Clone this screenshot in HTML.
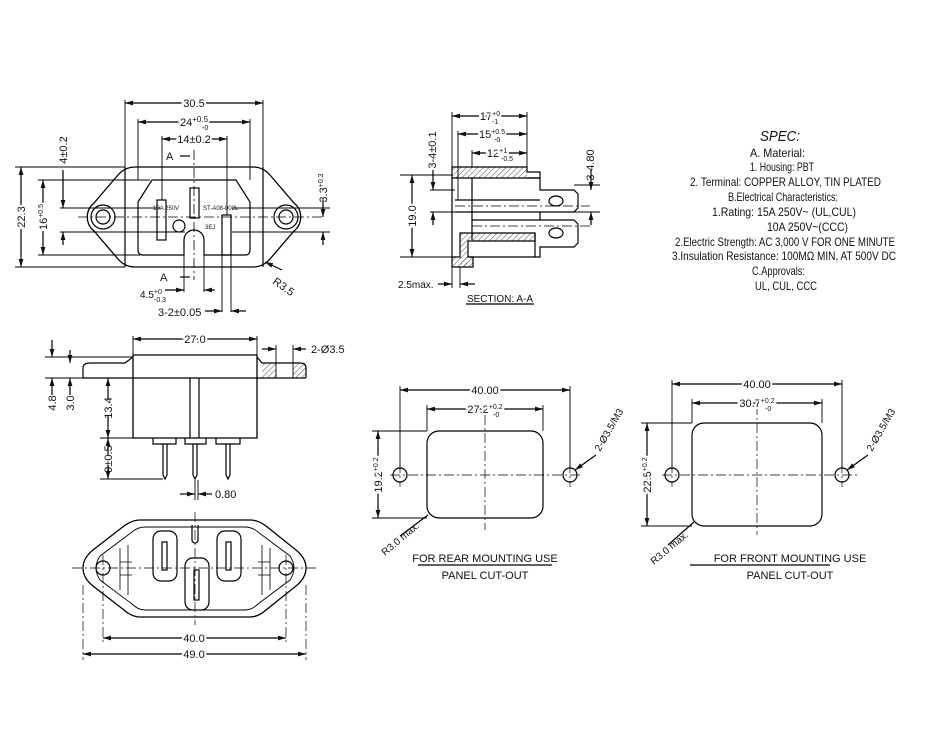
<!DOCTYPE html>
<html><head><meta charset="utf-8"><style>
html,body{margin:0;padding:0;background:#fff}
svg{display:block}
text{font-family:"Liberation Sans",sans-serif;fill:#111}
</style></head><body>
<svg width="930" height="744" viewBox="0 0 930 744" xmlns="http://www.w3.org/2000/svg">
<defs>
<marker id="a" viewBox="0 0 10 6" refX="10" refY="3" markerWidth="7" markerHeight="4" orient="auto-start-reverse"><path d="M0,0L10,3L0,6z" fill="#111"/></marker>
<pattern id="h" width="4" height="4" patternUnits="userSpaceOnUse" patternTransform="rotate(45)"><line x1="0" y1="0" x2="0" y2="4" stroke="#222" stroke-width="0.8"/></pattern>
</defs>
<g fill="none" stroke="#000" stroke-width="1.2">
<!-- TOP LEFT FRONT VIEW -->
<path d="M135,167 L253,167 Q263,167 270,175 L294,203 A18,18 0 0 1 294,231 L270,259 Q263,267 253,267 L135,267 Q125,267 118,259 L94,231 A18,18 0 0 1 94,203 L118,175 Q125,167 135,167 Z" stroke-width="1.3"/>
<circle cx="103" cy="217" r="12"/><circle cx="103" cy="217" r="7"/>
<circle cx="286" cy="217" r="12"/><circle cx="286" cy="217" r="7"/>
<path d="M125,167 L125,267 M263,167 L263,267"/>
<path d="M138,202 L152,180 L236,180 L250,202 L250,250 Q250,255 245,255 L204,255 L204,240 A10,10 0 0 0 184,240 L184,255 L143,255 Q138,255 138,250 Z"/>
<rect x="157" y="200" width="9" height="40"/><rect x="190" y="188" width="9" height="30"/><rect x="222" y="215" width="9" height="40"/>
<circle cx="179" cy="226" r="6"/>
<path d="M78,217 H325" stroke-dasharray="10,3,2,3" stroke-width="0.8"/>
<path d="M194,150 V280" stroke-dasharray="10,3,2,3" stroke-width="0.8"/>
<path d="M125,100 V167 M263,100 V167 M138,119 V180 M250,119 V180 M162,136 V200 M227,136 V215" stroke-width="0.9"/>
<line x1="125" y1="103" x2="263" y2="103" marker-start="url(#a)" marker-end="url(#a)"/>
<line x1="138" y1="122" x2="250" y2="122" marker-start="url(#a)" marker-end="url(#a)"/>
<line x1="162" y1="139" x2="227" y2="139" marker-start="url(#a)" marker-end="url(#a)"/>
<path d="M15,167 H125 M15,267 H125 M38,180 H150 M38,255 H140 M60,208 H160 M60,232 H185 M232,208 H330 M232,232 H330" stroke-width="0.9"/>
<line x1="21" y1="167" x2="21" y2="267" marker-start="url(#a)" marker-end="url(#a)"/>
<line x1="43" y1="180" x2="43" y2="255" marker-start="url(#a)" marker-end="url(#a)"/>
<line x1="63" y1="170" x2="63" y2="208" marker-end="url(#a)"/><line x1="63" y1="245" x2="63" y2="232" marker-end="url(#a)"/>
<line x1="323" y1="200" x2="323" y2="217" marker-end="url(#a)"/><line x1="323" y1="245" x2="323" y2="232" marker-end="url(#a)"/>
<path d="M184,255 V292 M204,255 V292 M222,255 V312 M231,255 V312" stroke-width="0.9"/>
<line x1="165" y1="290" x2="184" y2="290" marker-end="url(#a)"/><line x1="215" y1="290" x2="204" y2="290" marker-end="url(#a)"/>
<line x1="205" y1="311" x2="222" y2="311" marker-end="url(#a)"/><line x1="246" y1="311" x2="231" y2="311" marker-end="url(#a)"/>
<line x1="190" y1="156" x2="180" y2="156"/><line x1="190" y1="277" x2="180" y2="277"/>
<line x1="282" y1="270" x2="265" y2="262" marker-end="url(#a)"/>
<!-- SIDE VIEW -->
<path d="M133,355 H257 V438 H133 Z" stroke-width="1.3"/>
<path d="M83,378 H306 M83,378 V368 Q83,363 90,363 H125 L133,357 M257,357 L262,363 H300 Q306,363 306,368 V378"/>
<rect x="262" y="363" width="14" height="15" fill="url(#h)" stroke="none"/><rect x="293" y="363" width="13" height="15" fill="url(#h)" stroke="none"/>
<path d="M276,363 V378 M293,363 V378 M276,345 V363 M293,345 V363" stroke-width="0.9"/>
<line x1="262" y1="349" x2="276" y2="349" marker-end="url(#a)"/><line x1="306" y1="349" x2="293" y2="349" marker-end="url(#a)"/>
<path d="M190,378 V438 M199,378 V438"/>
<path d="M153,438 V444 H176 V438 M185,438 V444 H206 V438 M216,438 V444 H240 V438"/>
<path d="M163,444 V475 L165,479 L167,475 V444 M193,444 V475 L195,479 L197,475 V444 M226,444 V475 L228,479 L230,475 V444"/>
<path d="M133,336 V355 M257,336 V355 M195,480 V500 M198,480 V500" stroke-width="0.9"/>
<line x1="133" y1="339" x2="257" y2="339" marker-start="url(#a)" marker-end="url(#a)"/>
<path d="M45,357 H133 M45,378 H83 M100,438 H133 M100,479 H163" stroke-width="0.9"/>
<line x1="52" y1="340" x2="52" y2="357" marker-end="url(#a)"/><line x1="52" y1="395" x2="52" y2="378" marker-end="url(#a)"/>
<line x1="70" y1="350" x2="70" y2="363" marker-end="url(#a)"/><line x1="70" y1="395" x2="70" y2="378" marker-end="url(#a)"/>
<line x1="108" y1="400" x2="108" y2="378" marker-end="url(#a)"/><line x1="108" y1="415" x2="108" y2="438" marker-end="url(#a)"/>
<line x1="108" y1="455" x2="108" y2="438" marker-end="url(#a)"/><line x1="108" y1="465" x2="108" y2="479" marker-end="url(#a)"/>
<line x1="180" y1="494" x2="195" y2="494" marker-end="url(#a)"/><line x1="212" y1="494" x2="198" y2="494" marker-end="url(#a)"/>
<!-- BOTTOM FRONT VIEW -->
<path d="M140,520 H250 Q258,520 266,526 L296,550 Q306,558 306,568 Q306,578 296,586 L266,610 Q258,617 250,617 H140 Q132,617 124,610 L93,586 Q83,578 83,568 Q83,558 93,550 L124,526 Q132,520 140,520 Z" stroke-width="1.3"/>
<path d="M145,527 H245 Q252,527 258,532 L290,556 Q298,568 290,580 L258,604 Q252,610 245,610 H145 Q138,610 132,604 L100,580 Q92,568 100,556 L132,532 Q138,527 145,527 Z" stroke-width="0.9"/>
<rect x="153" y="531" width="24" height="50" rx="8"/><rect x="217" y="531" width="24" height="50" rx="8"/><rect x="185" y="558" width="24" height="52" rx="8"/>
<rect x="162" y="542" width="5" height="28"/><rect x="226" y="542" width="5" height="28"/><rect x="194" y="570" width="5" height="30"/>
<circle cx="103" cy="568" r="7"/><circle cx="286" cy="568" r="7"/>
<path d="M192,525 V540 A3,3 0 0 0 198,540 V525"/>
<path d="M120,548 V590 M128,545 V595 M120,562 H132 M120,575 H132 M270,548 V590 M262,545 V595 M258,562 H270 M258,575 H270" stroke-width="0.8"/>
<path d="M72,568 H318 M195,512 V625 M103,555 V645 M286,555 V645 M83,585 V660 M306,585 V660" stroke-dasharray="10,3,2,3" stroke-width="0.7"/>
<line x1="103" y1="638" x2="286" y2="638" marker-start="url(#a)" marker-end="url(#a)"/>
<line x1="83" y1="654" x2="306" y2="654" marker-start="url(#a)" marker-end="url(#a)"/>
<!-- SECTION A-A -->
<rect x="452" y="167" width="21" height="11" fill="url(#h)" stroke="none"/>
<rect x="473" y="167" width="54" height="11" fill="url(#h)" stroke="none"/>
<rect x="452" y="257" width="21" height="10" fill="url(#h)" stroke="none"/>
<rect x="460" y="233" width="75" height="8" fill="url(#h)" stroke="none"/>
<rect x="460" y="241" width="8" height="26" fill="url(#h)" stroke="none"/>
<path d="M452,167 H527 V172 H540 V178 H452 Z M452,167 V267 H473 V257 H468 V241 H535 V233 H460 V257 H452"/>
<path d="M527,178 H540 V190 H574 L578,194 V208 L574,212 H540 V220 H574 L578,224 V243 L574,247 H540 V257 H468"/>
<path d="M455,200 H540 M455,212 L540,212 M472,220 H540 M472,178 V240 M535,233 V257"/>
<ellipse cx="556" cy="201" rx="7" ry="5"/><ellipse cx="556" cy="233" rx="7" ry="5"/>
<path d="M455,206 H590 M472,226 H590" stroke-dasharray="10,3,2,3" stroke-width="0.7"/>
<path d="M452,112 V167 M458,131 V200 M472,150 V167 M527,112 V167 M400,175 H452 M400,257 H452 M430,190 H455 M430,212 H460 M574,185 H600 M574,212 H600 M452,267 V288 M460,267 V288" stroke-width="0.9"/>
<line x1="452" y1="116" x2="527" y2="116" marker-start="url(#a)" marker-end="url(#a)"/>
<line x1="458" y1="134" x2="527" y2="134" marker-start="url(#a)" marker-end="url(#a)"/>
<line x1="472" y1="153" x2="527" y2="153" marker-start="url(#a)" marker-end="url(#a)"/>
<line x1="412" y1="175" x2="412" y2="257" marker-start="url(#a)" marker-end="url(#a)"/>
<line x1="433" y1="170" x2="433" y2="190" marker-end="url(#a)"/><line x1="433" y1="225" x2="433" y2="212" marker-end="url(#a)"/>
<line x1="591" y1="170" x2="591" y2="190" marker-end="url(#a)"/><line x1="591" y1="225" x2="591" y2="212" marker-end="url(#a)"/>
<line x1="438" y1="284" x2="452" y2="284" marker-end="url(#a)"/><line x1="475" y1="284" x2="460" y2="284" marker-end="url(#a)"/>
<line x1="466" y1="304" x2="534" y2="304"/>
<!-- REAR CUTOUT -->
<rect x="427" y="431" width="116" height="87" rx="12"/>
<circle cx="400" cy="475" r="7"/><circle cx="570" cy="475" r="7"/>
<path d="M390,475 H580 M485,415 V530 M400,463 V487 M570,463 V487" stroke-dasharray="10,3,2,3" stroke-width="0.7"/>
<path d="M400,386 V468 M570,386 V468 M427,405 V431 M543,405 V431 M372,431 H427 M372,518 H427" stroke-width="0.9"/>
<line x1="400" y1="390" x2="570" y2="390" marker-start="url(#a)" marker-end="url(#a)"/>
<line x1="427" y1="409" x2="543" y2="409" marker-start="url(#a)" marker-end="url(#a)"/>
<line x1="378" y1="431" x2="378" y2="518" marker-start="url(#a)" marker-end="url(#a)"/>
<line x1="596" y1="455" x2="575" y2="470" marker-end="url(#a)"/>
<line x1="400" y1="536" x2="428" y2="515"/>
<line x1="418" y1="565" x2="552" y2="565"/>
<!-- FRONT CUTOUT -->
<rect x="692" y="423" width="130" height="103" rx="12"/>
<circle cx="672" cy="475" r="7"/><circle cx="842" cy="475" r="7"/>
<path d="M662,475 H858 M757,405 V535 M672,463 V487 M842,463 V487" stroke-dasharray="10,3,2,3" stroke-width="0.7"/>
<path d="M672,380 V468 M842,380 V468 M692,399 V423 M822,399 V423 M641,423 H692 M641,526 H692" stroke-width="0.9"/>
<line x1="672" y1="384" x2="842" y2="384" marker-start="url(#a)" marker-end="url(#a)"/>
<line x1="692" y1="403" x2="822" y2="403" marker-start="url(#a)" marker-end="url(#a)"/>
<line x1="647" y1="423" x2="647" y2="526" marker-start="url(#a)" marker-end="url(#a)"/>
<line x1="868" y1="455" x2="847" y2="470" marker-end="url(#a)"/>
<line x1="668" y1="545" x2="694" y2="522"/>
<line x1="690" y1="565" x2="830" y2="565"/>
</g>
<g font-size="11">
<text x="194" y="107" text-anchor="middle" stroke="#fff" stroke-width="4" style="paint-order:stroke">30.5</text>
<text x="194" y="126" text-anchor="middle" stroke="#fff" stroke-width="4" style="paint-order:stroke">24<tspan font-size="8" dy="-4">+0.5</tspan></text>
<text x="202" y="130" font-size="7">-0</text>
<text x="194" y="143" text-anchor="middle" stroke="#fff" stroke-width="4" style="paint-order:stroke">14±0.2</text>
<text x="166" y="160">A</text><text x="160" y="281">A</text>
<text x="140" y="298" font-size="10">4.5<tspan font-size="7" dy="-4">+0</tspan></text>
<text x="154" y="302" font-size="7">-0.3</text>
<text x="158" y="316">3-2±0.05</text>
<text x="272" y="283" transform="rotate(35 272 283)">R3.5</text>
<text x="25" y="217" transform="rotate(-90 25 217)" text-anchor="middle" stroke="#fff" stroke-width="4" style="paint-order:stroke">22.3</text>
<text x="47" y="217" transform="rotate(-90 47 217)" text-anchor="middle" stroke="#fff" stroke-width="4" style="paint-order:stroke">16<tspan font-size="7" dy="-4">+0.5</tspan></text>
<text x="67" y="150" transform="rotate(-90 67 150)" text-anchor="middle">4±0.2</text>
<text x="327" y="188" transform="rotate(-90 327 188)" text-anchor="middle">3.3<tspan font-size="7" dy="-4">+0.3</tspan></text>
<text x="153" y="210" font-size="6">10A 250V</text><text x="203" y="210" font-size="6">ST-A08-002L</text><text x="205" y="229" font-size="6">3EJ</text>
<text x="195" y="343" text-anchor="middle" stroke="#fff" stroke-width="4" style="paint-order:stroke">27.0</text>
<text x="311" y="353">2-Ø3.5</text>
<text x="56" y="403" transform="rotate(-90 56 403)" text-anchor="middle">4.8</text>
<text x="74" y="403" transform="rotate(-90 74 403)" text-anchor="middle">3.0</text>
<text x="112" y="408" transform="rotate(-90 112 408)" text-anchor="middle">13.4</text>
<text x="112" y="459" transform="rotate(-90 112 459)" text-anchor="middle">9±0.5</text>
<text x="215" y="498">0.80</text>
<text x="194" y="642" text-anchor="middle" stroke="#fff" stroke-width="4" style="paint-order:stroke">40.0</text>
<text x="194" y="658" text-anchor="middle" stroke="#fff" stroke-width="4" style="paint-order:stroke">49.0</text>
<text x="490" y="120" text-anchor="middle" stroke="#fff" stroke-width="4" style="paint-order:stroke">17<tspan font-size="7" dy="-4">+0</tspan></text>
<text x="492" y="124" font-size="7">-1</text>
<text x="492" y="138" text-anchor="middle" stroke="#fff" stroke-width="4" style="paint-order:stroke">15<tspan font-size="7" dy="-4">+0.5</tspan></text>
<text x="494" y="142" font-size="7">-0</text>
<text x="497" y="157" text-anchor="middle" stroke="#fff" stroke-width="4" style="paint-order:stroke">12<tspan font-size="7" dy="-4">+1</tspan></text>
<text x="501" y="161" font-size="7">-0.5</text>
<text x="436" y="150" transform="rotate(-90 436 150)" text-anchor="middle">3-4±0.1</text>
<text x="594" y="165" transform="rotate(-90 594 165)" text-anchor="middle">3-4.80</text>
<text x="416" y="216" transform="rotate(-90 416 216)" text-anchor="middle" stroke="#fff" stroke-width="4" style="paint-order:stroke">19.0</text>
<text x="398" y="288" font-size="10">2.5max.</text>
<text x="500" y="302" text-anchor="middle" font-size="10">SECTION: A-A</text>
<text x="485" y="394" text-anchor="middle" stroke="#fff" stroke-width="4" style="paint-order:stroke">40.00</text>
<text x="485" y="413" text-anchor="middle" stroke="#fff" stroke-width="4" style="paint-order:stroke">27.2<tspan font-size="7" dy="-4">+0.2</tspan></text>
<text x="493" y="417" font-size="7">-0</text>
<text x="382" y="475" transform="rotate(-90 382 475)" text-anchor="middle" stroke="#fff" stroke-width="4" style="paint-order:stroke">19.2<tspan font-size="7" dy="-4">+0.2</tspan></text>
<text x="600" y="452" transform="rotate(-60 600 452)" font-size="10">2-Ø3.5/M3</text>
<text x="385" y="556" transform="rotate(-40 385 556)" font-size="10">R3.0 max.</text>
<text x="485" y="562" text-anchor="middle">FOR REAR MOUNTING USE</text>
<text x="485" y="579" text-anchor="middle">PANEL CUT-OUT</text>
<text x="757" y="388" text-anchor="middle" stroke="#fff" stroke-width="4" style="paint-order:stroke">40.00</text>
<text x="757" y="407" text-anchor="middle" stroke="#fff" stroke-width="4" style="paint-order:stroke">30.7<tspan font-size="7" dy="-4">+0.2</tspan></text>
<text x="765" y="411" font-size="7">-0</text>
<text x="651" y="475" transform="rotate(-90 651 475)" text-anchor="middle" stroke="#fff" stroke-width="4" style="paint-order:stroke">22.5<tspan font-size="7" dy="-4">+0.2</tspan></text>
<text x="872" y="452" transform="rotate(-60 872 452)" font-size="10">2-Ø3.5/M3</text>
<text x="654" y="565" transform="rotate(-40 654 565)" font-size="10">R3.0 max.</text>
<text x="790" y="562" text-anchor="middle">FOR FRONT MOUNTING USE</text>
<text x="790" y="579" text-anchor="middle">PANEL CUT-OUT</text>
</g>
<g font-size="12">
<text x="760" y="141" font-size="15" font-style="italic" textLength="40" lengthAdjust="spacingAndGlyphs">SPEC:</text>
<text x="750" y="157" textLength="55" lengthAdjust="spacingAndGlyphs">A. Material:</text>
<text x="750" y="171" textLength="64" lengthAdjust="spacingAndGlyphs">1.  Housing: PBT</text>
<text x="690" y="186" textLength="191" lengthAdjust="spacingAndGlyphs">2.  Terminal: COPPER ALLOY, TIN PLATED</text>
<text x="728" y="201" textLength="110" lengthAdjust="spacingAndGlyphs">B.Electrical Characteristics:</text>
<text x="712" y="216" textLength="144" lengthAdjust="spacingAndGlyphs">1.Rating:  15A 250V~ (UL,CUL)</text>
<text x="767" y="231" textLength="81" lengthAdjust="spacingAndGlyphs">10A 250V~(CCC)</text>
<text x="675" y="246" textLength="220" lengthAdjust="spacingAndGlyphs">2.Electric Strength: AC 3,000 V FOR ONE MINUTE</text>
<text x="672" y="260" textLength="224" lengthAdjust="spacingAndGlyphs">3.Insulation Resistance: 100MΩ MIN, AT 500V DC</text>
<text x="752" y="275" textLength="53" lengthAdjust="spacingAndGlyphs">C.Approvals:</text>
<text x="755" y="290" textLength="62" lengthAdjust="spacingAndGlyphs">UL, CUL, CCC</text>
</g>
</svg>
</body></html>
